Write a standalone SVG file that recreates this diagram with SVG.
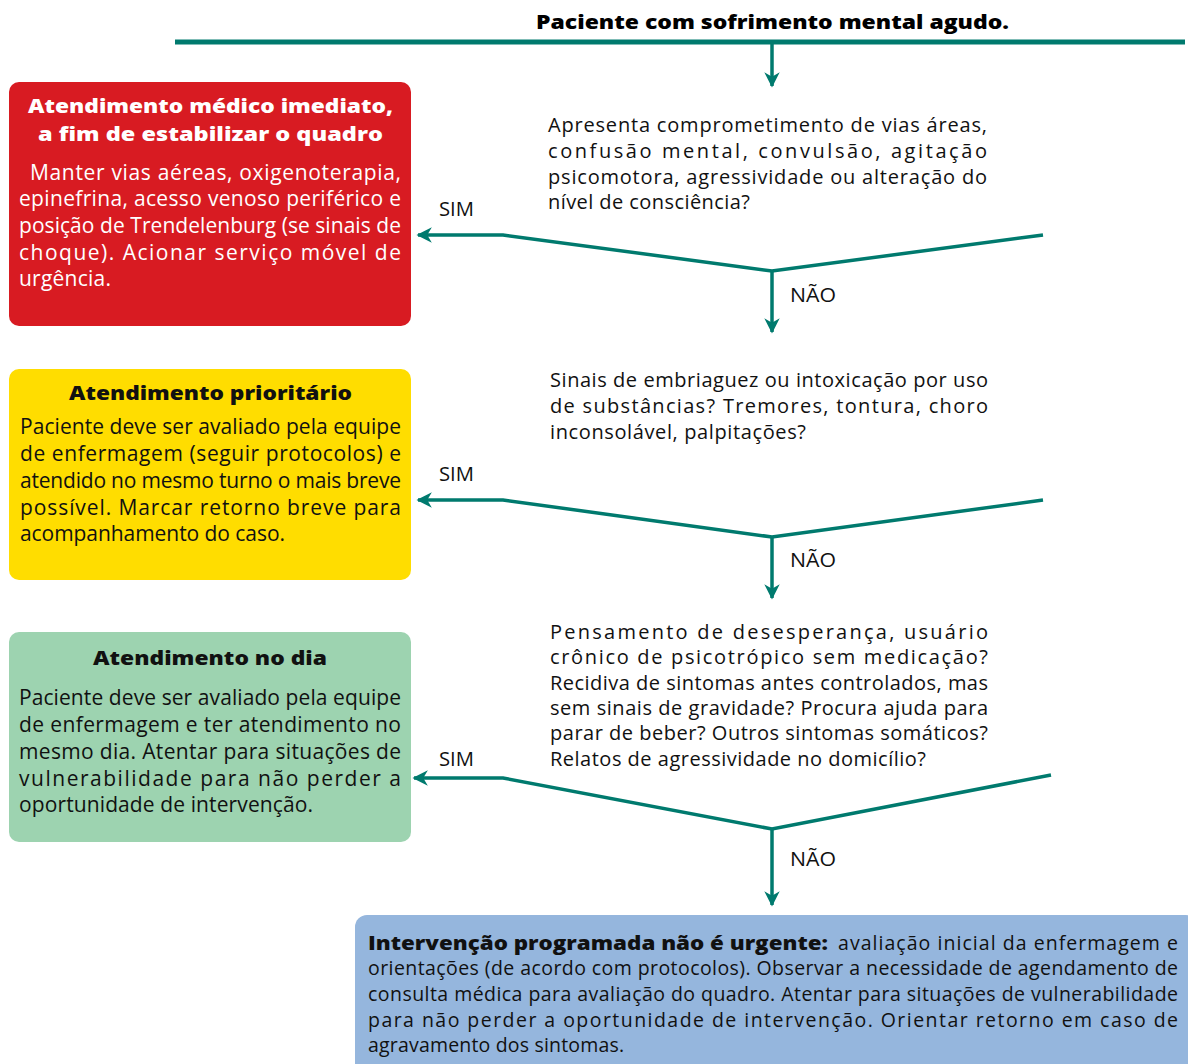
<svg xmlns="http://www.w3.org/2000/svg" width="1188" height="1064" viewBox="0 0 1188 1064">
<defs>
<marker id="ah" viewBox="0 0 10 10" refX="9" refY="5" markerWidth="4.4" markerHeight="4.4" orient="auto" markerUnits="strokeWidth">
<path d="M0,0 L10,5 L0,10 L3,5 z" fill="#007a6e"/>
</marker>
<style>
.ln{fill:none;stroke:#007a6e;stroke-width:3.5;stroke-linejoin:miter}
.t{font-family:"Open Sans","Liberation Sans",sans-serif;font-size:21px;fill:#111}
.q{font-size:20px}
.b{font-size:19.5px}
.w{fill:#fff}
.h{font-family:"Open Sans","Liberation Sans",sans-serif;font-weight:800;font-size:20px}
.lab{font-family:"Open Sans","Liberation Sans",sans-serif;font-size:20px;fill:#111}
</style>
</defs>
<rect width="1188" height="1064" fill="#fff"/>

<g id="header">
<text x="536" y="29" class="h" fill="#000" textLength="473" lengthAdjust="spacingAndGlyphs">Paciente com sofrimento mental agudo.</text>
</g>

<g id="connectors">
<line x1="175" y1="42" x2="1185" y2="42" stroke="#007a6e" stroke-width="5"/>
<line x1="772" y1="42" x2="772" y2="86" class="ln" marker-end="url(#ah)"/>
<polyline points="1043,235 772,271 503,235 418,235" class="ln" marker-end="url(#ah)"/>
<line x1="772" y1="271" x2="772" y2="332" class="ln" marker-end="url(#ah)"/>
<polyline points="1043,500 772,537 503,500 418,500" class="ln" marker-end="url(#ah)"/>
<line x1="772" y1="537" x2="772" y2="598" class="ln" marker-end="url(#ah)"/>
<polyline points="1051,775 772,829 503,778 414,778" class="ln" marker-end="url(#ah)"/>
<line x1="772" y1="829" x2="772" y2="905" class="ln" marker-end="url(#ah)"/>
<text x="439" y="216" class="lab" textLength="35" lengthAdjust="spacingAndGlyphs">SIM</text>
<text x="790" y="302" class="lab" textLength="46" lengthAdjust="spacingAndGlyphs">NÃO</text>
<text x="439" y="481" class="lab" textLength="35" lengthAdjust="spacingAndGlyphs">SIM</text>
<text x="790" y="567" class="lab" textLength="46" lengthAdjust="spacingAndGlyphs">NÃO</text>
<text x="439" y="766" class="lab" textLength="35" lengthAdjust="spacingAndGlyphs">SIM</text>
<text x="790" y="866" class="lab" textLength="46" lengthAdjust="spacingAndGlyphs">NÃO</text>
</g>

<g id="q1">
<text x="548" y="132" class="t q" textLength="439" lengthAdjust="spacing">Apresenta comprometimento de vias áreas,</text>
<text x="548" y="158" class="t q" textLength="439" lengthAdjust="spacing">confusão mental, convulsão, agitação</text>
<text x="548" y="184" class="t q" textLength="439" lengthAdjust="spacing">psicomotora, agressividade ou alteração do</text>
<text x="548" y="209" class="t q" textLength="202" lengthAdjust="spacing">nível de consciência?</text>
</g>

<g id="q2">
<text x="550" y="387" class="t q" textLength="438" lengthAdjust="spacing">Sinais de embriaguez ou intoxicação por uso</text>
<text x="550" y="413" class="t q" textLength="438" lengthAdjust="spacing">de substâncias? Tremores, tontura, choro</text>
<text x="550" y="439" class="t q" textLength="256" lengthAdjust="spacing">inconsolável, palpitações?</text>
</g>

<g id="q3">
<text x="550" y="639" class="t q" textLength="438" lengthAdjust="spacing">Pensamento de desesperança, usuário</text>
<text x="550" y="664" class="t q" textLength="438" lengthAdjust="spacing">crônico de psicotrópico sem medicação?</text>
<text x="550" y="690" class="t q" textLength="438" lengthAdjust="spacing">Recidiva de sintomas antes controlados, mas</text>
<text x="550" y="715" class="t q" textLength="438" lengthAdjust="spacing">sem sinais de gravidade? Procura ajuda para</text>
<text x="550" y="740" class="t q" textLength="438" lengthAdjust="spacing">parar de beber? Outros sintomas somáticos?</text>
<text x="550" y="766" class="t q" textLength="376" lengthAdjust="spacing">Relatos de agressividade no domicílio?</text>
</g>

<g id="red">
<rect x="9" y="82" width="402" height="244" rx="10" fill="#d81b22"/>
<text x="28" y="113" class="h w" textLength="365" lengthAdjust="spacingAndGlyphs">Atendimento médico imediato,</text>
<text x="38" y="141" class="h w" textLength="345" lengthAdjust="spacingAndGlyphs">a fim de estabilizar o quadro</text>
<text x="30" y="180" class="t w" textLength="371" lengthAdjust="spacing">Manter vias aéreas, oxigenoterapia,</text>
<text x="19" y="206" class="t w" textLength="382" lengthAdjust="spacing">epinefrina, acesso venoso periférico e</text>
<text x="19" y="233" class="t w" textLength="382" lengthAdjust="spacing">posição de Trendelenburg (se sinais de</text>
<text x="19" y="260" class="t w" textLength="382" lengthAdjust="spacing">choque). Acionar serviço móvel de</text>
<text x="19" y="286" class="t w" textLength="92" lengthAdjust="spacing">urgência.</text>
</g>

<g id="yellow">
<rect x="9" y="369" width="402" height="211" rx="10" fill="#ffdd00"/>
<text x="69" y="400" class="h" fill="#111" textLength="283" lengthAdjust="spacingAndGlyphs">Atendimento prioritário</text>
<text x="20" y="434" class="t" textLength="381" lengthAdjust="spacing">Paciente deve ser avaliado pela equipe</text>
<text x="20" y="461" class="t" textLength="381" lengthAdjust="spacing">de enfermagem (seguir protocolos) e</text>
<text x="20" y="488" class="t" textLength="381" lengthAdjust="spacing">atendido no mesmo turno o mais breve</text>
<text x="20" y="515" class="t" textLength="381" lengthAdjust="spacing">possível. Marcar retorno breve para</text>
<text x="20" y="541" class="t" textLength="265" lengthAdjust="spacing">acompanhamento do caso.</text>
</g>

<g id="green">
<rect x="9" y="632" width="402" height="210" rx="10" fill="#9dd3b0"/>
<text x="93" y="665" class="h" fill="#111" textLength="234" lengthAdjust="spacingAndGlyphs">Atendimento no dia</text>
<text x="19" y="705" class="t" textLength="382" lengthAdjust="spacing">Paciente deve ser avaliado pela equipe</text>
<text x="19" y="732" class="t" textLength="382" lengthAdjust="spacing">de enfermagem e ter atendimento no</text>
<text x="19" y="759" class="t" textLength="382" lengthAdjust="spacing">mesmo dia. Atentar para situações de</text>
<text x="19" y="786" class="t" textLength="382" lengthAdjust="spacing">vulnerabilidade para não perder a</text>
<text x="19" y="812" class="t" textLength="294" lengthAdjust="spacing">oportunidade de intervenção.</text>
</g>

<g id="blue">
<rect x="355" y="915" width="843" height="170" rx="12" fill="#95b6dd"/>
<text x="368" y="950" class="h" fill="#111" font-size="19" textLength="460" lengthAdjust="spacingAndGlyphs">Intervenção programada não é urgente:</text>
<text x="838" y="950" class="t b" textLength="340" lengthAdjust="spacing">avaliação inicial da enfermagem e</text>
<text x="368" y="975" class="t b" textLength="810" lengthAdjust="spacing">orientações (de acordo com protocolos). Observar a necessidade de agendamento de</text>
<text x="368" y="1001" class="t b" textLength="810" lengthAdjust="spacing">consulta médica para avaliação do quadro. Atentar para situações de vulnerabilidade</text>
<text x="368" y="1027" class="t b" textLength="810" lengthAdjust="spacing">para não perder a oportunidade de intervenção. Orientar retorno em caso de</text>
<text x="368" y="1052" class="t b" textLength="256" lengthAdjust="spacing">agravamento dos sintomas.</text>
</g>
</svg>
